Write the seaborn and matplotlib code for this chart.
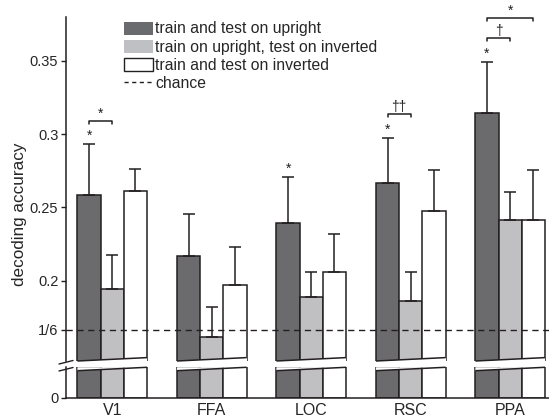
import numpy as np
import pandas as pd
import matplotlib
matplotlib.use("Agg")
import matplotlib.pyplot as plt
from matplotlib.patches import Patch, Polygon
from matplotlib.lines import Line2D
from matplotlib.container import BarContainer
import seaborn as sns

# data
regions = ["V1", "FFA", "LOC", "RSC", "PPA"]
conditions = ["train and test on upright",
              "train on upright, test on inverted",
              "train and test on inverted"]
acc_upright = [0.2584, 0.2168, 0.2391, 0.2668, 0.3141]
acc_cross = [0.1945, 0.1614, 0.1889, 0.1862, 0.2414]
acc_inverted = [0.2612, 0.1973, 0.2059, 0.2475, 0.2414]
err_upright = [0.0348, 0.0289, 0.0318, 0.0307, 0.0352]
err_cross = [0.0232, 0.0206, 0.0172, 0.0199, 0.0189]
err_inverted = [0.0148, 0.0255, 0.0261, 0.0280, 0.0341]
chance = 1 / 6

# significance marks: (region, condition index, label)
single_marks = [("V1", 0, "*"), ("LOC", 0, "*"), ("RSC", 0, "*"), ("PPA", 0, "*")]
# brackets: (region, cond a, cond b, label, level)
bracket_marks = [("V1", 0, 1, "*", 0), ("RSC", 0, 1, "\u2020\u2020", 0),
                 ("PPA", 0, 1, "\u2020", 0), ("PPA", 0, 2, "*", 1)]

df = pd.DataFrame({
    "region": regions * 3,
    "condition": np.repeat(conditions, len(regions)),
    "acc": acc_upright + acc_cross + acc_inverted,
})
errs = [err_upright, err_cross, err_inverted]

sns.set_style("white")
plt.rcParams["font.family"] = ["Liberation Sans", "DejaVu Sans"]

colors = ["#6a6b6f", "#bfc0c3", "#ffffff"]
edge = "#231f20"

fig = plt.figure(figsize=(5.49, 4.2), dpi=100)
W, H = 549, 420
left, right = 66, 549
ax = fig.add_axes([left / W, (H - 361) / H, (right - left) / W, 344 / H])
axb = fig.add_axes([left / W, (H - 397.7) / H, (right - left) / W, 30.4 / H])

top_lo, top_hi = 0.14525, 0.3798
bot_hi = 30.4 / 1466.7
slant = 3.4 / 1466.7
xlim = (-0.465, 4.39)

for a in (ax, axb):
    sns.barplot(data=df, x="region", y="acc", hue="condition", palette=colors,
                width=0.7, edgecolor=edge, linewidth=1.1, errorbar=None,
                legend=False, ax=a, zorder=2)
    a.set_xlim(*xlim)
    a.set_xlabel("")
    a.set_ylabel("")
    for s in ["top", "right"]:
        a.spines[s].set_visible(False)
    a.spines["left"].set_linewidth(1.1)
    a.spines["left"].set_color(edge)
    a.tick_params(axis="y", left=True, direction="out", length=3.5, width=1.0,
                  color=edge, labelsize=10.5, pad=2)

bar_sets = [c for c in ax.containers if isinstance(c, BarContainer)]

ax.set_ylim(top_lo, top_hi)
ax.spines["bottom"].set_visible(False)
ax.set_xticks([])
ax.set_yticks([chance, 0.2, 0.25, 0.3, 0.35])
ax.set_yticklabels(["1/6", "0.2", "0.25", "0.3", "0.35"])
ax.set_ylabel("decoding accuracy", fontsize=12.3)
ax.yaxis.set_label_coords(-0.081, 0.427)

axb.set_ylim(0, bot_hi)
axb.set_yticks([0])
axb.set_yticklabels(["0"])
axb.spines["bottom"].set_linewidth(1.1)
axb.spines["bottom"].set_color(edge)
axb.tick_params(axis="x", length=0, labelsize=11.5, pad=4)

# chance line
ax.axhline(chance, color=edge, lw=1.0, ls=(0, (4.5, 3.3)), zorder=3)

# error bars (upper only)
for k, cont in enumerate(bar_sets):
    xs = [b.get_x() + b.get_width() / 2 for b in cont]
    ys = [b.get_height() for b in cont]
    ax.errorbar(xs, ys, yerr=[np.zeros(len(xs)), errs[k]], fmt="none",
                ecolor=edge, elinewidth=1.1, capsize=4.6, capthick=1.1, zorder=4)

# broken-axis slants across each bar group
groups = []
for i in range(len(regions)):
    bars = [cont[i] for cont in bar_sets]
    groups.append((min(b.get_x() for b in bars),
                   max(b.get_x() + b.get_width() for b in bars)))
for l, r in groups:
    ax.add_patch(Polygon([(l, top_lo), (r, top_lo), (r, top_lo + slant)],
                         closed=True, fc="white", ec="none", zorder=5, clip_on=False))
    ax.plot([l, r], [top_lo, top_lo + slant], color=edge, lw=1.1, zorder=6,
            clip_on=False, solid_capstyle="butt")
    axb.add_patch(Polygon([(l, bot_hi), (l, bot_hi - slant), (r, bot_hi)],
                          closed=True, fc="white", ec="none", zorder=5, clip_on=False))
    axb.plot([l, r], [bot_hi - slant, bot_hi], color=edge, lw=1.1, zorder=6,
             clip_on=False, solid_capstyle="butt")

# break marks on the y axis
for y0 in (362.5, 369.5):
    fig.add_artist(Line2D([59 / W, 73 / W], [(H - y0 - 1.5) / H, (H - y0 + 2) / H],
                          color=edge, lw=1.0))

# significance annotations
def bar_info(region, cond):
    i = regions.index(region)
    b = bar_sets[cond][i]
    return b.get_x() + b.get_width() / 2, b.get_height() + errs[cond][i]

for region, cond, lab in single_marks:
    x, y = bar_info(region, cond)
    ax.annotate(lab, (x, y), xytext=(0, 1), textcoords="offset points",
                ha="center", va="bottom", fontsize=10, color=edge,
                annotation_clip=False)

for region, ca, cb, lab, level in bracket_marks:
    xa, ya = bar_info(region, ca)
    xb, yb = bar_info(region, cb)
    y = max(ya, yb) + 0.016 + 0.014 * level
    tick = 0.0022
    ax.plot([xa, xa, xb, xb], [y - tick, y, y, y - tick], color=edge, lw=1.1,
            clip_on=False, zorder=6)
    ax.annotate(lab, ((xa + xb) / 2, y), xytext=(0, 0), textcoords="offset points",
                ha="center", va="bottom", fontsize=10, color=edge,
                annotation_clip=False)

# legend
handles = [Patch(facecolor=colors[0], edgecolor="none"),
           Patch(facecolor=colors[1], edgecolor="none"),
           Patch(facecolor=colors[2], edgecolor=edge, linewidth=1.0),
           Line2D([], [], color=edge, lw=1.0, ls=(0, (3, 2.5)))]
fig.legend(handles, conditions + ["chance"], loc="upper left",
           bbox_to_anchor=(124 / W, (H - 21.5) / H), frameon=False, fontsize=11.3,
           borderpad=0, borderaxespad=0, handlelength=1.85, handleheight=0.9,
           handletextpad=0.15, labelspacing=0.2)

fig.savefig("out.png", dpi=100)
